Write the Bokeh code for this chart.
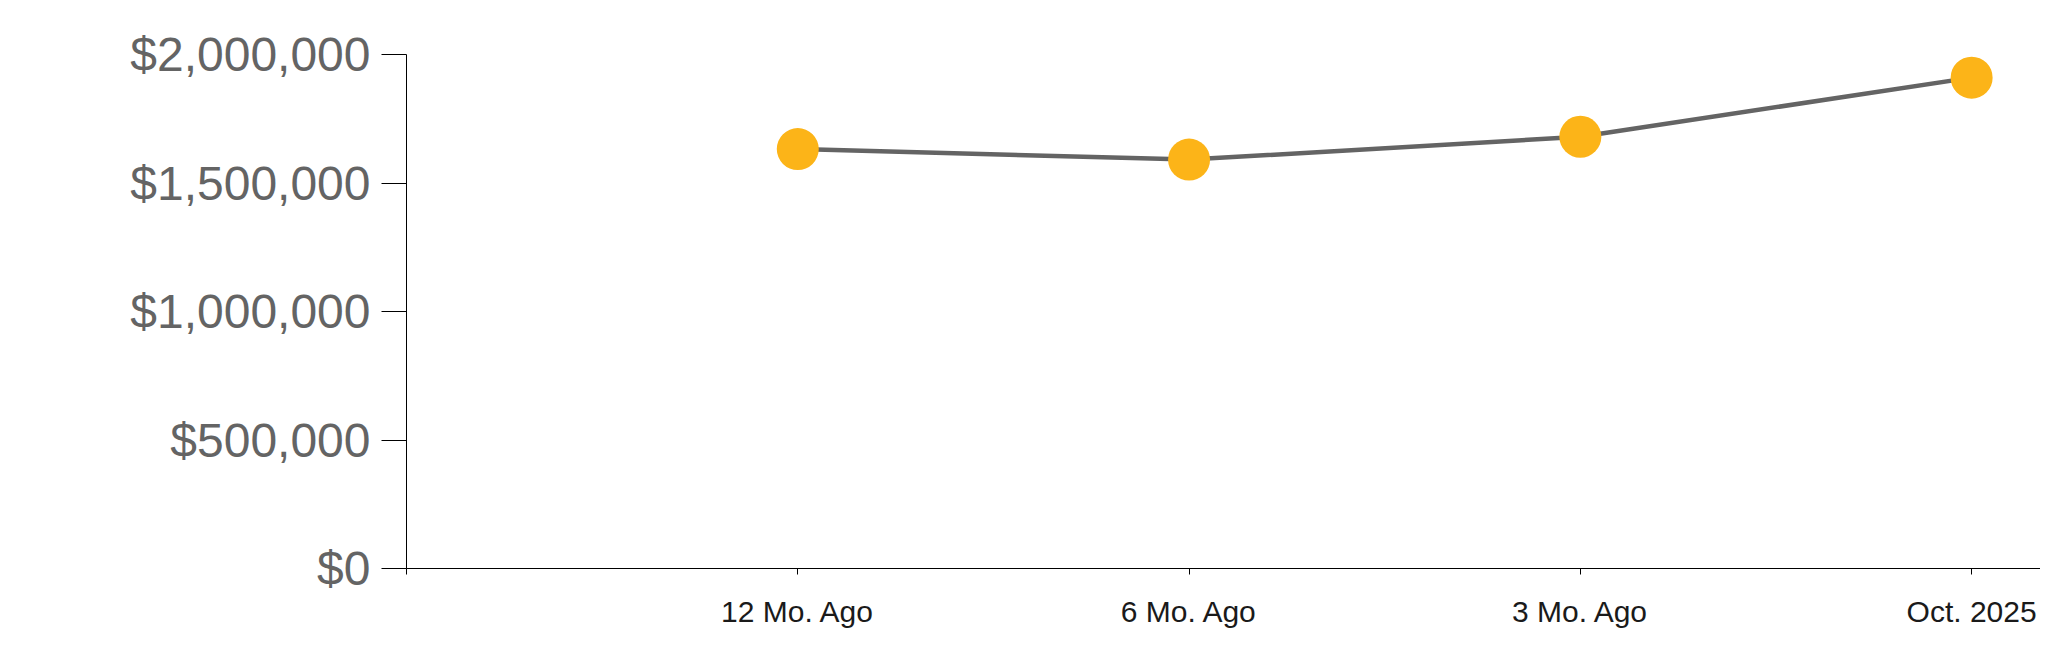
from bokeh.plotting import figure
from bokeh.models import FixedTicker, NumeralTickFormatter, Range1d
from bokeh.embed import file_html
from bokeh.resources import INLINE

categories = ["12 Mo. Ago", "6 Mo. Ago", "3 Mo. Ago", "Oct. 2025"]
values = [1632000, 1591000, 1680000, 1910000]
y_ticks = [0, 500000, 1000000, 1500000, 2000000]

xs = list(range(1, len(categories) + 1))

p = figure(width=2040, height=655, output_backend="svg", toolbar_location=None,
           x_range=Range1d(0, 4.176), y_range=Range1d(0, 2000000),
           min_border_left=406, min_border_right=0, min_border_top=54, min_border_bottom=87)
p.outline_line_color = None
p.xgrid.visible = False
p.ygrid.visible = False

p.line(xs, values, line_color="#646464", line_width=4.5)
p.scatter(xs, values, size=42, fill_color="#FCB418", line_color=None)

p.xaxis.ticker = FixedTicker(ticks=[0] + xs)
p.xaxis.major_label_overrides = {0: ""} | {x: c for x, c in zip(xs, categories)}
p.xaxis.major_tick_out = 6
p.xaxis.major_tick_in = 0
p.xaxis.minor_tick_line_color = None
p.xaxis.axis_line_color = "black"
p.xaxis.major_tick_line_color = "black"
p.xaxis.major_label_text_font = "Liberation Sans"
p.xaxis.major_label_text_font_size = "30px"
p.xaxis.major_label_text_color = "#1a1a1a"
p.xaxis.major_label_standoff = 20

p.yaxis.ticker = FixedTicker(ticks=y_ticks)
p.yaxis.formatter = NumeralTickFormatter(format="$0,0")
p.yaxis.major_tick_out = 25
p.yaxis.major_tick_in = 0
p.yaxis.minor_tick_line_color = None
p.yaxis.axis_line_color = "black"
p.yaxis.major_tick_line_color = "black"
p.yaxis.major_label_text_font = "Liberation Sans"
p.yaxis.major_label_text_font_size = "48px"
p.yaxis.major_label_text_color = "#646464"
p.yaxis.major_label_standoff = 11

open("out.html", "w").write(file_html(p, INLINE))
